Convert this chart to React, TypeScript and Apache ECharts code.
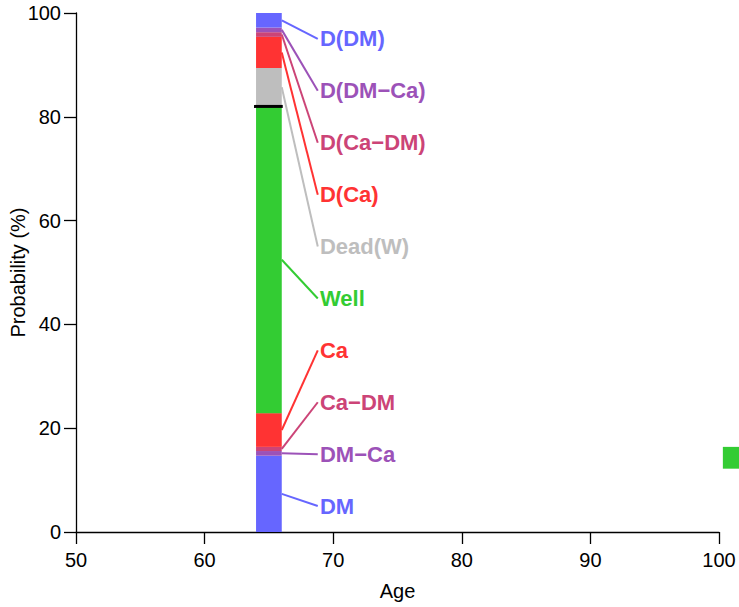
import React, { useEffect, useRef } from "react";
import * as echarts from "echarts";

// States from bottom to top of the stacked bar
const states = ["DM", "DM−Ca", "Ca−DM", "Ca", "Well", "Dead(W)", "D(Ca)", "D(Ca−DM)", "D(DM−Ca)", "D(DM)"];
// Probability (%) of each state at age 65
const probs = [14.7, 0.9, 0.8, 6.5, 59.1, 7.4, 6.0, 0.9, 0.9, 2.8];
const colors = ["#6666ff", "#9c52b8", "#cc4477", "#ff3333", "#33cc33", "#bebebe", "#ff3333", "#cc4477", "#9c52b8", "#6666ff"];
// Label y positions (%)
const labelY = [5, 15, 25, 35, 45, 55, 65, 75, 85, 95];
const barAge = [64, 66];
const labelAge = 68.97;
const lineEndAge = 68.8;
const livingStates = 5;
// Extra green mark at age 100
const extraAge = [100.3, 102.5];
const extraRange = [12.2, 16.4];
const xTicks = [50, 100, 10];
const yTicks = [0, 100, 20];

const FONT = "'Liberation Sans', Arial, Helvetica, sans-serif";

export default function App() {
  const ref = useRef<HTMLDivElement>(null);
  useEffect(() => {
    if (!ref.current) return;
    const chart = echarts.init(ref.current, null, { renderer: "svg" });
    const lows: number[] = [];
    const highs: number[] = [];
    let acc = 0;
    probs.forEach((p) => {
      lows.push(acc);
      acc += p;
      highs.push(acc);
    });
    const boundary = highs[livingStates - 1];
    const segData = states.map((s, i) => [barAge[0], barAge[1], lows[i], highs[i], i]);
    const leaderData = states.map((s, i) => [barAge[1], (lows[i] + highs[i]) / 2, lineEndAge, labelY[i], i]);

    chart.setOption({
      animation: false,
      grid: { left: 76, right: 20, top: 13, bottom: 75, containLabel: false, outerBoundsMode: "none" },
      xAxis: {
        type: "value",
        min: xTicks[0],
        max: xTicks[1],
        interval: xTicks[2],
        name: "Age",
        nameLocation: "middle",
        nameGap: 49,
        nameMoveOverlap: false,
        nameTextStyle: { color: "#000", fontSize: 20, fontFamily: FONT },
        splitLine: { show: false },
        axisLine: { lineStyle: { color: "#000", width: 1.3 } },
        axisTick: { length: 12, lineStyle: { color: "#000", width: 1.3 } },
        axisLabel: { color: "#000", fontSize: 20, fontFamily: FONT, margin: 18 },
      },
      yAxis: {
        type: "value",
        min: yTicks[0],
        max: yTicks[1],
        interval: yTicks[2],
        name: "Probability (%)",
        nameLocation: "middle",
        nameGap: 48,
        nameMoveOverlap: false,
        nameTextStyle: { color: "#000", fontSize: 20, fontFamily: FONT },
        splitLine: { show: false },
        axisLine: { lineStyle: { color: "#000", width: 1.3 } },
        axisTick: { length: 12, lineStyle: { color: "#000", width: 1.3 } },
        axisLabel: { color: "#000", fontSize: 20, fontFamily: FONT, margin: 15 },
      },
      series: [
        {
          type: "custom",
          clip: false,
          data: segData,
          renderItem: (params: any, api: any) => {
            const p0 = api.coord([api.value(0), api.value(3)]);
            const p1 = api.coord([api.value(1), api.value(2)]);
            const i = api.value(4);
            return {
              type: "rect",
              shape: { x: p0[0], y: p0[1], width: p1[0] - p0[0], height: p1[1] - p0[1] },
              style: { fill: colors[i] },
            };
          },
        },
        {
          type: "custom",
          clip: false,
          data: [[extraAge[0], extraAge[1], extraRange[0], extraRange[1]]],
          renderItem: (params: any, api: any) => {
            const p0 = api.coord([api.value(0), api.value(3)]);
            const p1 = api.coord([api.value(1), api.value(2)]);
            return {
              type: "rect",
              shape: { x: p0[0], y: p0[1], width: p1[0] - p0[0], height: p1[1] - p0[1] },
              style: { fill: colors[4] },
            };
          },
        },
        {
          type: "custom",
          clip: false,
          data: [[barAge[0], barAge[1], boundary]],
          renderItem: (params: any, api: any) => {
            const a = api.coord([api.value(0), api.value(2)]);
            const b = api.coord([api.value(1), api.value(2)]);
            return {
              type: "line",
              shape: { x1: a[0] - 2, y1: a[1], x2: b[0] + 1, y2: b[1] },
              style: { stroke: "#000", lineWidth: 3 },
            };
          },
        },
        {
          type: "custom",
          clip: false,
          data: leaderData,
          renderItem: (params: any, api: any) => {
            const i = api.value(4);
            const a = api.coord([api.value(0), api.value(1)]);
            const b = api.coord([api.value(2), api.value(3)]);
            const t = api.coord([labelAge, api.value(3)]);
            return {
              type: "group",
              children: [
                {
                  type: "line",
                  shape: { x1: a[0], y1: a[1], x2: b[0], y2: b[1] },
                  style: { stroke: colors[i], lineWidth: 2 },
                },
                {
                  type: "text",
                  x: t[0],
                  y: t[1],
                  style: {
                    text: states[i],
                    fill: colors[i],
                    font: `bold 22px ${FONT}`,
                    textAlign: "left",
                    textVerticalAlign: "middle",
                  },
                },
              ],
            };
          },
        },
      ],
    });
    return () => chart.dispose();
  }, []);
  return <div ref={ref} style={{ position: "absolute", left: 0, top: 0, width: 739, height: 607 }} />;
}
